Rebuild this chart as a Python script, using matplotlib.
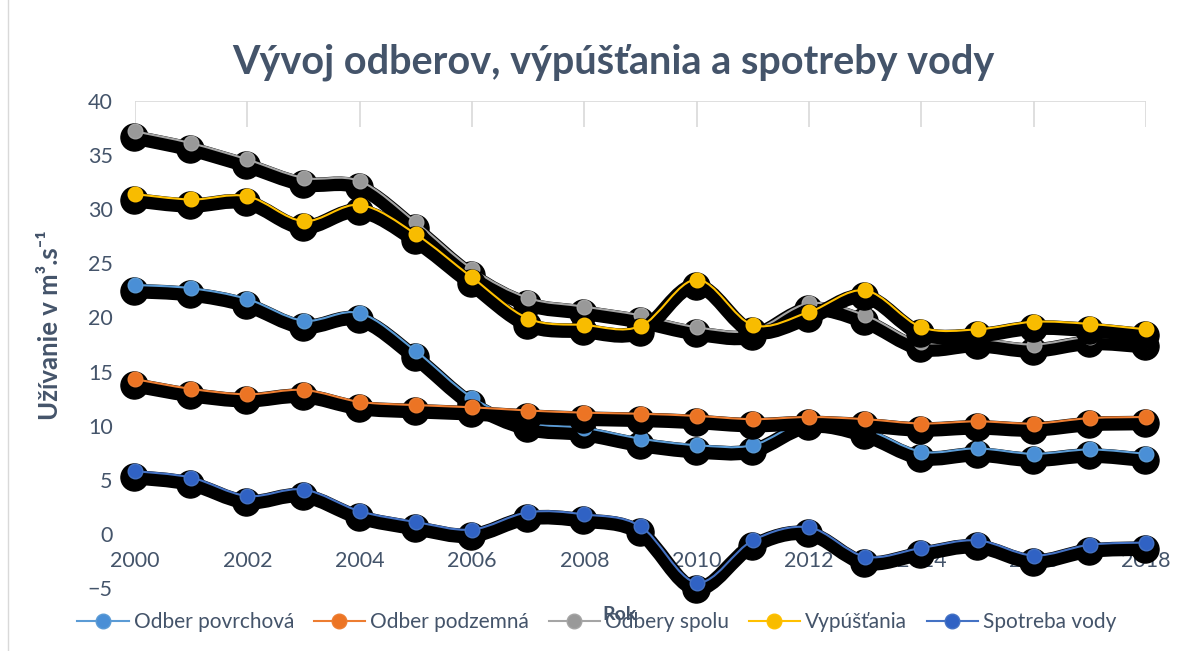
import numpy as np
import matplotlib
matplotlib.use('Agg')
import matplotlib.pyplot as plt
from matplotlib.path import Path
from matplotlib.patches import PathPatch
from matplotlib.lines import Line2D
from matplotlib import transforms

plt.rcParams['font.family'] = ['Lato', 'DejaVu Sans']

years = list(range(2000, 2019))
odber_povrchova = [23.0, 22.7, 21.7, 19.7, 20.4, 16.9, 12.6, 10.3, 9.8, 8.8,
                   8.2, 8.2, 10.5, 9.7, 7.6, 7.9, 7.4, 7.8, 7.4]
odber_podzemna = [14.3, 13.4, 12.9, 13.3, 12.2, 11.9, 11.7, 11.4, 11.2, 11.1,
                  10.9, 10.6, 10.8, 10.6, 10.2, 10.4, 10.2, 10.7, 10.8]
odbery_spolu = [37.2, 36.1, 34.6, 32.9, 32.6, 28.8, 24.5, 21.8, 21.0, 20.2,
                19.1, 18.8, 21.3, 20.2, 17.7, 18.0, 17.5, 18.2, 17.9]
vypustania = [31.4, 30.9, 31.2, 28.9, 30.4, 27.7, 23.7, 19.9, 19.3, 19.2,
              23.5, 19.3, 20.5, 22.5, 19.1, 18.9, 19.6, 19.4, 18.9]
spotreba_vody = [5.8, 5.2, 3.5, 4.1, 2.1, 1.1, 0.4, 2.0, 1.8, 0.7,
                 -4.5, -0.6, 0.6, -2.1, -1.3, -0.6, -2.0, -1.0, -0.8]

labels = ['Odber povrchová', 'Odber podzemná', 'Odbery spolu', 'Vypúšťania', 'Spotreba vody']
series = [odber_povrchova, odber_podzemna, odbery_spolu, vypustania, spotreba_vody]
line_colors = ['#5B9BD5', '#ED7D31', '#A5A5A5', '#FFC000', '#4472C4']
marker_colors = ['#4A8FD6', '#EC7424', '#999999', '#F8BC00', '#3062C4']
text_color = '#44546A'


def smooth_path(xs, ys):
    # excel-like smoothed line (catmull-rom as cubic beziers)
    pts = np.column_stack([xs, ys]).astype(float)
    n = len(pts)
    verts = [pts[0]]
    codes = [Path.MOVETO]
    for i in range(n - 1):
        p0 = pts[max(i - 1, 0)]
        p1 = pts[i]
        p2 = pts[i + 1]
        p3 = pts[min(i + 2, n - 1)]
        verts += [p1 + (p2 - p0) / 6, p2 - (p3 - p1) / 6, p2]
        codes += [Path.CURVE4] * 3
    return Path(verts, codes)


W, H = 1202, 651
fig = plt.figure(figsize=(W / 100, H / 100), dpi=100)
ax = fig.add_axes([135 / W, (H - 588) / H, (1146 - 135) / W, (588 - 101) / H])
ax.set_xlim(2000, 2018)
ax.set_ylim(-5, 40)

for s in ax.spines.values():
    s.set_visible(False)
ax.spines['bottom'].set_position(('data', 0))
ax.set_xticks(range(2000, 2019, 2))
ax.set_yticks(range(-5, 41, 5))
ax.tick_params(length=0, labelsize=15.5, labelcolor=text_color)
ax.tick_params(axis='x', pad=12)
ax.tick_params(axis='y', pad=16)

# top gridline and short vertical stubs
ax.axhline(40, color='#D9D9D9', lw=1.2, zorder=0)
ax.vlines(range(2000, 2019, 2), 37.6, 40, color='#D9D9D9', lw=1.2, zorder=0)

shadow_tr = ax.transData + transforms.ScaledTranslation(-0.01, -0.06, fig.dpi_scale_trans)

z = 2
for vals, lc, mc in zip(series, line_colors, marker_colors):
    path = smooth_path(years, vals)
    ax.add_patch(PathPatch(path, facecolor='none', edgecolor='black', lw=10.5,
                           capstyle='round', joinstyle='round',
                           transform=shadow_tr, clip_on=False, zorder=z))
    ax.plot(years, vals, 'o', ms=19.5, color='black', transform=shadow_tr,
            clip_on=False, zorder=z)
    ax.add_patch(PathPatch(path, facecolor='none', edgecolor=lc, lw=1.5,
                           clip_on=False, zorder=z + 1))
    ax.plot(years, vals, 'o', ms=10.5, color=mc, mec=lc, mew=1,
            clip_on=False, zorder=z + 1)
    z += 2

fig.text(613 / W, 1 - 62 / H, 'Vývoj odberov, výpúšťania a spotreby vody',
         ha='center', va='center', fontsize=28.5, fontweight='bold', color=text_color)
fig.text(50 / W, 1 - 325 / H, 'Užívanie v m³.s⁻¹', rotation=90,
         ha='center', va='center', fontsize=18.5, fontweight='bold', color=text_color)

handles = [Line2D([], [], color=lc, lw=1.5, marker='o', ms=10.5, mfc=mc, mec=lc)
           for lc, mc in zip(line_colors, marker_colors)]
fig.legend(handles, labels, loc='center', bbox_to_anchor=(597 / W, 1 - 622 / H),
           ncol=5, frameon=False, fontsize=15, handlelength=2.45,
           handletextpad=0.25, columnspacing=0.95, labelcolor=text_color)
fig.text(620 / W, 1 - 614 / H, 'Rok', ha='center', va='center', fontsize=14,
         fontweight='bold', color=text_color, zorder=10)

fig.add_artist(Line2D([8 / W, 8 / W], [0, 1], transform=fig.transFigure,
                      color='#D9D9D9', lw=1))

fig.savefig('out.png', dpi=100)
